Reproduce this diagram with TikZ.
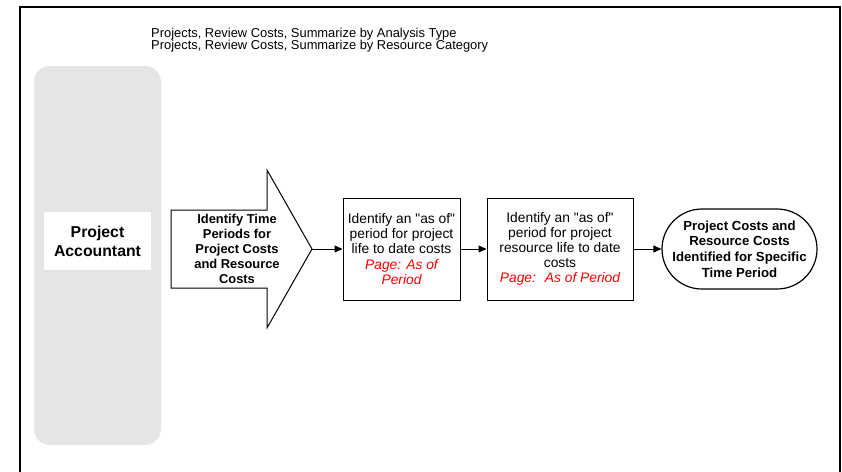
\documentclass[tikz,border=0pt]{standalone}
\usepackage{fontspec}
\setmainfont{Liberation Sans}[Ligatures=TeXOff]
\usetikzlibrary{arrows.meta}

\tikzset{
  stepbox/.style={draw, line width=1pt, rectangle, minimum height=102pt, align=center, inner sep=0pt, font=\fontsize{13.8}{15.2}\selectfont},
  flow/.style={-{Triangle[length=8pt,width=7pt]}, line width=1pt},
}

\begin{document}
\begin{tikzpicture}[x=1pt, y=-1pt]
    \useasboundingbox (0,0) rectangle (842,471);
    % frame and menu paths
    \draw[line width=2pt] (20,480) -- (20,7) -- (840,7) -- (840,480);
    \node[anchor=north west, inner sep=0pt, align=left, font=\fontsize{12.9}{12.3}\selectfont] at (151,28) (menus) {Projects, Review Costs, Summarize by Analysis Type\\Projects, Review Costs, Summarize by Resource Category};

    % swimlane
    \fill[rounded corners=16pt, fill={rgb,255:red,229;green,229;blue,229}] (34,66) rectangle (161,445);
    \node[fill=white, minimum width=107pt, minimum height=58pt, inner sep=0pt, align=center, font=\bfseries\fontsize{15.8}{19}\selectfont] at (97.5,241) (actor) {Project\\Accountant};

    % big arrow
    \draw[line width=1pt] (171,210) -- (267,210) -- (267,170) -- (312,249) -- (267,328) -- (267,288) -- (171,288) -- cycle;
    \coordinate (arrowtip) at (312,249);
    \node[align=center, inner sep=0pt, font=\bfseries\fontsize{12.9}{15}\selectfont] at (237,249) (identify) {Identify Time\\Periods for\\Project Costs\\and Resource\\Costs};

    \node[stepbox, minimum width=117pt] at (401.5,249) (asof) {Identify an "as of"\\period for project\\life to date costs\\\textcolor{red}{\itshape Page: As of}\\\textcolor{red}{\itshape Period}};
    \node[stepbox, minimum width=146pt] at (560,249) (resasof) {Identify an "as of"\\period for project\\resource life to date\\costs\\\textcolor{red}{\itshape Page:~ As of Period}};
    \node[draw, line width=1.2pt, rounded corners=40pt, minimum width=155pt, minimum height=80pt, inner sep=0pt, align=center, font=\bfseries\fontsize{13.2}{15.8}\selectfont] at (739.5,249) (done) {Project Costs and\\Resource Costs\\Identified for Specific\\Time Period};

    \draw[flow] (arrowtip) -- (asof);
    \draw[flow] (asof) -- (resasof);
    \draw[flow] (resasof) -- (done);
\end{tikzpicture}
\end{document}
